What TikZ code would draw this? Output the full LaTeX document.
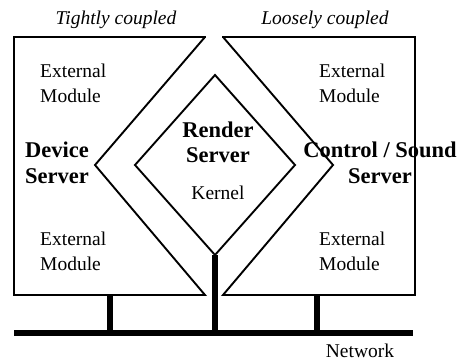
\documentclass[tikz,border=0pt]{standalone}
\usepackage{fontspec}
\setmainfont{Liberation Serif}
\begin{document}
\begin{tikzpicture}[x=1pt,y=-1pt,
  edge/.style={line width=2.8pt,line cap=rect},
  slant/.style={line width=1.9pt},
  bar/.style={line width=5.5pt},
  plain/.style={font=\fontsize{19.5}{25}\selectfont,inner sep=0pt},
  heavy/.style={font=\fontsize{22.5}{25}\selectfont\bfseries,inner sep=0pt,align=center},
  tag/.style={font=\fontsize{19.5}{25}\selectfont\itshape,inner sep=0pt}]
\useasboundingbox (0,0) rectangle (462,363);

% corner points of the two server frames
\coordinate (lt) at (14,37);   \coordinate (ltr) at (205,37);
\coordinate (lnotch) at (95,165);
\coordinate (lbr) at (205,295); \coordinate (lb) at (14,295);
\coordinate (rtl) at (223,37); \coordinate (rt) at (415,37);
\coordinate (rb) at (415,295); \coordinate (rbl) at (223,295);
\coordinate (rnotch) at (333,165);

% render server diamond
\coordinate (dt) at (215,75);  \coordinate (dr) at (295,165);
\coordinate (db) at (215,255); \coordinate (dl) at (135,165);

% network bus and drops
\coordinate (busl) at (14,333); \coordinate (busr) at (413,333);
\coordinate (dropl) at (110,295); \coordinate (dropc) at (215,333);
\coordinate (dropr) at (317,295);
\coordinate (dropll) at (110,333); \coordinate (droprr) at (317,333);

% left frame
\draw[slant,line join=miter] (ltr) -- (lnotch) -- (lbr) -- (lb);
\draw[edge] (lb) -- (lt) -- (ltr);
% right frame
\draw[slant,line join=miter] (rtl) -- (rnotch) -- (rbl) -- (rb);
\draw[edge] (rtl) -- (rt) -- (rb);
% diamond
\draw[slant,line join=miter] (dt) -- (dr) -- (db) -- (dl) -- cycle;

% bus
\draw[bar] (busl) -- (busr);
\draw[bar] (dropl) -- (dropll);
\draw[bar] (db) -- (dropc);
\draw[bar] (dropr) -- (droprr);

% labels
\node[tag,anchor=base] (tc) at (116,25) {Tightly coupled};
\node[tag,anchor=base] (lc) at (325,25) {Loosely coupled};

\node[plain,anchor=base west] (e1a) at (40,78) {External};
\node[plain,anchor=base west] (e1b) at (40,103) {Module};
\node[plain,anchor=base west] (e2a) at (319,78) {External};
\node[plain,anchor=base west] (e2b) at (319,103) {Module};
\node[plain,anchor=base west] (e3a) at (40,245) {External};
\node[plain,anchor=base west] (e3b) at (40,270) {Module};
\node[plain,anchor=base west] (e4a) at (319,245) {External};
\node[plain,anchor=base west] (e4b) at (319,270) {Module};

\node[heavy,anchor=base] (dev1) at (57,158) {Device};
\node[heavy,anchor=base] (dev2) at (57,183) {Server};
\node[heavy,anchor=base] (ren1) at (218,138) {Render};
\node[heavy,anchor=base] (ren2) at (218,163) {Server};
\node[plain,anchor=base] (ker) at (218,200) {Kernel};
\node[heavy,anchor=base] (con1) at (380,158) {Control / Sound};
\node[heavy,anchor=base] (con2) at (380,183) {Server};

\node[plain,anchor=base] (net) at (360,357) {Network};
\end{tikzpicture}
\end{document}
